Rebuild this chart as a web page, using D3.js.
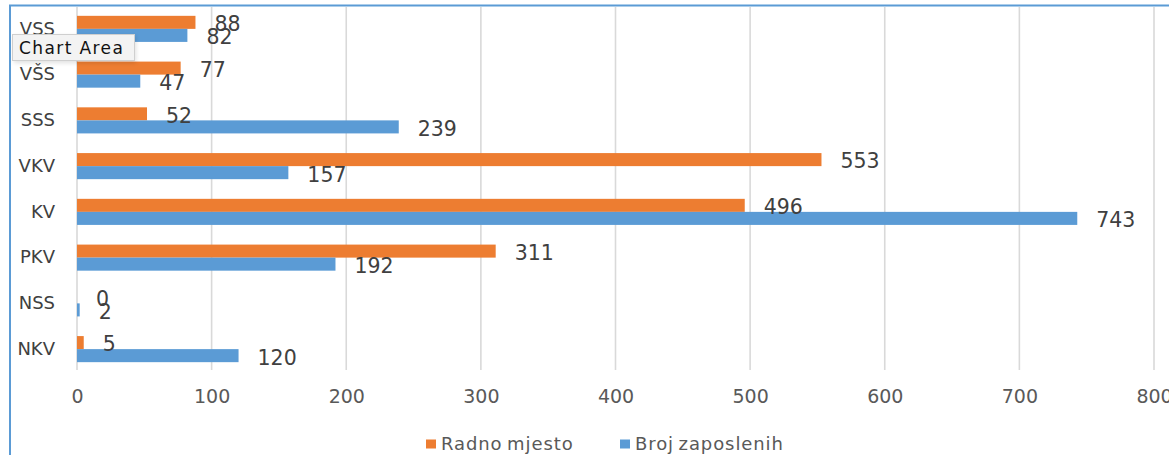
<!DOCTYPE html>
<html>
<head>
<meta charset="utf-8">
<script src="https://cdn.jsdelivr.net/npm/d3@7"></script>
<style>
  html, body { margin: 0; padding: 0; background: #fff; }
  svg { display: block; }
</style>
</head>
<body>
<svg id="chart" width="1169" height="455"></svg>
<script>
const categories = ["VSS", "VŠS", "SSS", "VKV", "KV", "PKV", "NSS", "NKV"];
const seriesNames = ["Radno mjesto", "Broj zaposlenih"];
const radnoMjesto = [88, 77, 52, 553, 496, 311, 0, 5];
const brojZaposlenih = [82, 47, 239, 157, 743, 192, 2, 120];
const xTicks = [0, 100, 200, 300, 400, 500, 600, 700, 800];
const colors = ["#ED7D31", "#5B9BD5"];

const svg = d3.select("#chart");

// chart area border (partially visible)
svg.append("rect")
  .attr("x", 10).attr("y", 5.5)
  .attr("width", 1300).attr("height", 600)
  .attr("fill", "#fff")
  .attr("stroke", "#5B9BD5").attr("stroke-width", 2);

const x = d3.scaleLinear().domain([0, 800]).range([77, 1154]);
const y = d3.scaleBand().domain(categories).range([6, 372]).paddingInner(0.43).paddingOuter(0.215);
const ySub = d3.scaleBand().domain(seriesNames).range([0, y.bandwidth()]);

// gridlines
svg.append("g").selectAll("line").data(xTicks).join("line")
  .attr("x1", d => x(d)).attr("x2", d => x(d))
  .attr("y1", 7).attr("y2", 370)
  .attr("stroke", "#d9d9d9").attr("stroke-width", 1.6);

// x axis tick labels
const xAxis = d3.axisBottom(x).tickValues(xTicks).tickSize(0).tickPadding(0);
const gx = svg.append("g").attr("transform", "translate(0,396)").call(xAxis);
gx.select(".domain").remove();
gx.selectAll("text")
  .attr("dy", "0.36em")
  .attr("font-family", "DejaVu Sans")
  .attr("font-size", 19)
  .attr("fill", "#595959");

// y axis category labels
const yAxis = d3.axisLeft(y).tickSize(0).tickPadding(0);
const gy = svg.append("g").attr("transform", "translate(55,0)").call(yAxis);
gy.select(".domain").remove();
gy.selectAll("text")
  .attr("font-family", "DejaVu Sans")
  .attr("font-size", 18)
  .attr("fill", "#404040");

const data = categories.map((c, i) => ({ cat: c, values: [radnoMjesto[i], brojZaposlenih[i]] }));

const groups = svg.append("g").selectAll("g").data(data).join("g")
  .attr("transform", d => `translate(0,${y(d.cat)})`);

groups.selectAll("rect").data(d => d.values.map((v, j) => ({ v, s: seriesNames[j], j }))).join("rect")
  .attr("x", x(0))
  .attr("y", d => ySub(d.s))
  .attr("width", d => x(d.v) - x(0))
  .attr("height", ySub.bandwidth())
  .attr("fill", d => colors[d.j]);

groups.selectAll("text").data(d => d.values.map((v, j) => ({ v, s: seriesNames[j], j }))).join("text")
  .attr("x", d => x(d.v) + 19)
  .attr("y", d => ySub(d.s) + ySub.bandwidth() / 2 + 1.5)
  .attr("dy", "0.36em")
  .attr("font-family", "DejaVu Sans")
  .attr("font-size", 20.5)
  .attr("fill", "#404040")
  .text(d => d.v);

// legend
const legendItems = [
  { name: seriesNames[0], color: colors[0], x: 426 },
  { name: seriesNames[1], color: colors[1], x: 620 }
];
const lg = svg.append("g").selectAll("g").data(legendItems).join("g")
  .attr("transform", d => `translate(${d.x},444)`);
lg.append("rect").attr("x", 0).attr("y", -4.5).attr("width", 10).attr("height", 9).attr("fill", d => d.color);
lg.append("text").attr("x", 15).attr("y", 0).attr("dy", "0.36em")
  .attr("font-family", "DejaVu Sans").attr("font-size", 18).attr("fill", "#595959")
  .attr("letter-spacing", 0.9).attr("word-spacing", -2)
  .text(d => d.name);

// "Chart Area" tooltip
const tip = svg.append("g");
tip.append("rect").attr("x", 14).attr("y", 36).attr("width", 122).attr("height", 27)
  .attr("fill", "#000").attr("opacity", 0.12).attr("filter", "blur(2px)");
tip.append("rect").attr("x", 12.5).attr("y", 34.5).attr("width", 122).attr("height", 26)
  .attr("fill", "#f3f3f3").attr("stroke", "#cfcfcf").attr("stroke-width", 1);
tip.append("text").attr("x", 19).attr("y", 47.5).attr("dy", "0.36em")
  .attr("font-family", "DejaVu Sans").attr("font-size", 17).attr("fill", "#111")
  .attr("letter-spacing", 1.4)
  .text("Chart Area");
</script>
</body>
</html>
